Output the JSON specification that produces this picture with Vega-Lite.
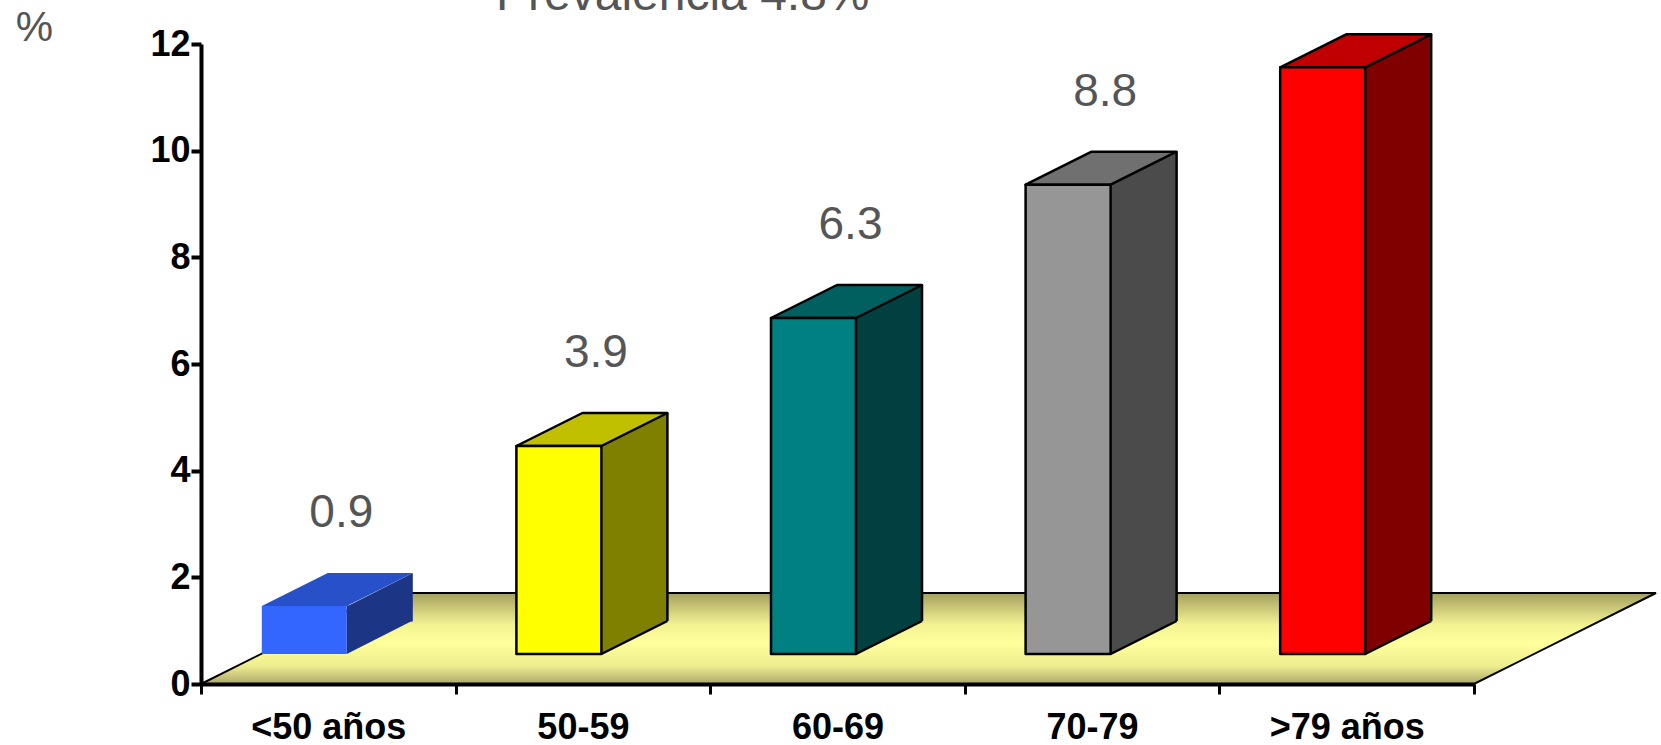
{
  "$schema": "https://vega.github.io/schema/vega-lite/v6.json",
  "autosize": "none",
  "width": 1273,
  "height": 640,
  "padding": {"left": 201, "top": 44, "right": 187, "bottom": 61},
  "background": "white",
  "title": {
    "text": "Prevalencia 4.8%",
    "anchor": "start",
    "frame": "group",
    "dx": 295,
    "dy": 59,
    "offset": -48,
    "baseline": "alphabetic",
    "font": "Liberation Sans",
    "fontSize": 48,
    "fontWeight": "normal",
    "color": "#555555"
  },
  "data": {
    "values": [
      {"age": "<50 años", "value": 0.9},
      {"age": "50-59", "value": 3.9},
      {"age": "60-69", "value": 6.3},
      {"age": "70-79", "value": 8.8},
      {"age": ">79 años", "value": 11.0}
    ]
  },
  "encoding": {
    "x": {
      "field": "age",
      "type": "nominal",
      "title": null,
      "scale": {
        "domain": ["<50 años", "50-59", "60-69", "70-79", ">79 años"],
        "paddingInner": 0,
        "paddingOuter": 0
      },
      "axis": {
        "zindex": 1,
        "labelAngle": 0,
        "tickBand": "extent",
        "domainColor": "black",
        "domainWidth": 4,
        "tickColor": "black",
        "tickWidth": 3,
        "tickSize": 10,
        "labelFont": "Liberation Sans",
        "labelFontWeight": "bold",
        "labelFontSize": 36,
        "labelColor": "black",
        "labelPadding": 16,
        "labelLimit": 0
      }
    },
    "y": {
      "field": "value",
      "type": "quantitative",
      "scale": {"domain": [0, 12], "nice": false, "zero": true},
      "axis": {
        "zindex": 1,
        "values": [0, 2, 4, 6, 8, 10, 12],
        "grid": false,
        "domainColor": "black",
        "domainWidth": 4,
        "tickColor": "black",
        "tickWidth": 4,
        "tickSize": 10,
        "labelFont": "Liberation Sans",
        "labelFontWeight": "bold",
        "labelFontSize": 36,
        "labelColor": "black",
        "labelPadding": 1,
        "labelOverlap": false,
        "title": "%",
        "titleAngle": 0,
        "titleX": -167,
        "titleY": -17,
        "titleAlign": "center",
        "titleBaseline": "middle",
        "titleFont": "Liberation Sans",
        "titleFontSize": 42,
        "titleFontWeight": "normal",
        "titleColor": "#555555"
      }
    }
  },
  "layer": [
    {
      "description": "floor of the 3D plot, anchored at the start of the first category",
      "transform": [{"filter": "datum.age === '<50 años'"}],
      "mark": {
        "type": "point",
        "shape": "M0,0 L1273,0 L1455,-91 L182,-91 Z",
        "size": 4,
        "filled": true,
        "opacity": 1,
        "fill": {
          "gradient": "linear",
          "x1": 0, "y1": 0, "x2": 0, "y2": 1,
          "stops": [
            {"offset": 0, "color": "#a4a060"},
            {"offset": 0.35, "color": "#f4f392"},
            {"offset": 0.55, "color": "#ffff9c"},
            {"offset": 0.8, "color": "#efee8f"},
            {"offset": 1, "color": "#aca86c"}
          ]
        },
        "stroke": "black",
        "strokeWidth": 2
      },
      "encoding": {
        "x": {"field": "age", "type": "nominal", "bandPosition": 0},
        "y": {"datum": 0, "type": "quantitative"}
      }
    },
    {
      "description": "side face, middle part",
      "mark": {"type": "bar", "width": 66, "xOffset": 51.5, "yOffset": -30.5, "y2Offset": -62.5},
      "encoding": {
        "y2": {"datum": 0},
        "fill": {
          "field": "age", "type": "nominal", "legend": null,
          "scale": {"domain": ["<50 años", "50-59", "60-69", "70-79", ">79 años"],
                    "range": ["#1c3585", "#808000", "#004040", "#4b4b4b", "#800000"]}
        }
      }
    },
    {
      "description": "side face, upper triangle",
      "mark": {"type": "point", "shape": "M42.5,0.5 L108.5,-33 L108.5,0.5 Z", "size": 4, "filled": true, "opacity": 1, "xOffset": -24, "yOffset": -30},
      "encoding": {
        "fill": {
          "field": "age", "type": "nominal", "legend": null,
          "scale": {"domain": ["<50 años", "50-59", "60-69", "70-79", ">79 años"],
                    "range": ["#1c3585", "#808000", "#004040", "#4b4b4b", "#800000"]}
        }
      }
    },
    {
      "description": "side face, lower triangle",
      "mark": {"type": "point", "shape": "M42.5,-33.5 L42.5,0 L108.5,-33.5 Z", "size": 4, "filled": true, "opacity": 1, "xOffset": -24, "yOffset": -30},
      "encoding": {
        "y": {"datum": 0, "type": "quantitative"},
        "fill": {
          "field": "age", "type": "nominal", "legend": null,
          "scale": {"domain": ["<50 años", "50-59", "60-69", "70-79", ">79 años"],
                    "range": ["#1c3585", "#808000", "#004040", "#4b4b4b", "#800000"]}
        }
      }
    },
    {
      "description": "side face, bottom edge",
      "mark": {"type": "point", "shape": "M42.5,0 L108.5,-33", "size": 4, "filled": false, "opacity": 1, "stroke": "black", "strokeWidth": 2.5, "xOffset": -24, "yOffset": -30},
      "encoding": {
        "y": {"datum": 0, "type": "quantitative"},
        "strokeOpacity": {"condition": {"test": "datum.age === '<50 años'", "value": 0}, "value": 1}
      }
    },
    {
      "description": "side face, back edge",
      "mark": {"type": "rule", "stroke": "black", "strokeWidth": 2.5, "xOffset": 84.5, "yOffset": -63, "y2Offset": -63},
      "encoding": {
        "y2": {"datum": 0},
        "strokeOpacity": {"condition": {"test": "datum.age === '<50 años'", "value": 0}, "value": 1}
      }
    },
    {
      "description": "top face",
      "mark": {"type": "point", "shape": "M-42.5,0 L42.5,0 L108.5,-33 L23.5,-33 Z", "size": 4, "filled": true, "opacity": 1, "stroke": "black", "strokeWidth": 2.5, "strokeJoin": "round", "xOffset": -24, "yOffset": -30},
      "encoding": {
        "fill": {
          "field": "age", "type": "nominal", "legend": null,
          "scale": {"domain": ["<50 años", "50-59", "60-69", "70-79", ">79 años"],
                    "range": ["#2850c8", "#c0c000", "#006060", "#707070", "#c00000"]}
        },
        "strokeOpacity": {"condition": {"test": "datum.age === '<50 años'", "value": 0}, "value": 1}
      }
    },
    {
      "description": "front face",
      "mark": {"type": "bar", "width": 85, "xOffset": -24, "yOffset": -30, "y2Offset": -30, "stroke": "black", "strokeWidth": 2.5, "strokeJoin": "round"},
      "encoding": {
        "y2": {"datum": 0},
        "fill": {
          "field": "age", "type": "nominal", "legend": null,
          "scale": {"domain": ["<50 años", "50-59", "60-69", "70-79", ">79 años"],
                    "range": ["#3366ff", "#ffff00", "#008080", "#969696", "#ff0000"]}
        },
        "strokeOpacity": {"condition": {"test": "datum.age === '<50 años'", "value": 0}, "value": 1}
      }
    },
    {
      "description": "value labels",
      "mark": {"type": "text", "dx": 13, "dy": -123, "align": "center", "baseline": "middle", "font": "Liberation Sans", "fontSize": 46, "color": "#555555"},
      "encoding": {
        "text": {"field": "value", "type": "quantitative", "format": ".1f"}
      }
    }
  ],
  "resolve": {"scale": {"fill": "independent"}},
  "config": {"view": {"stroke": null}}
}
